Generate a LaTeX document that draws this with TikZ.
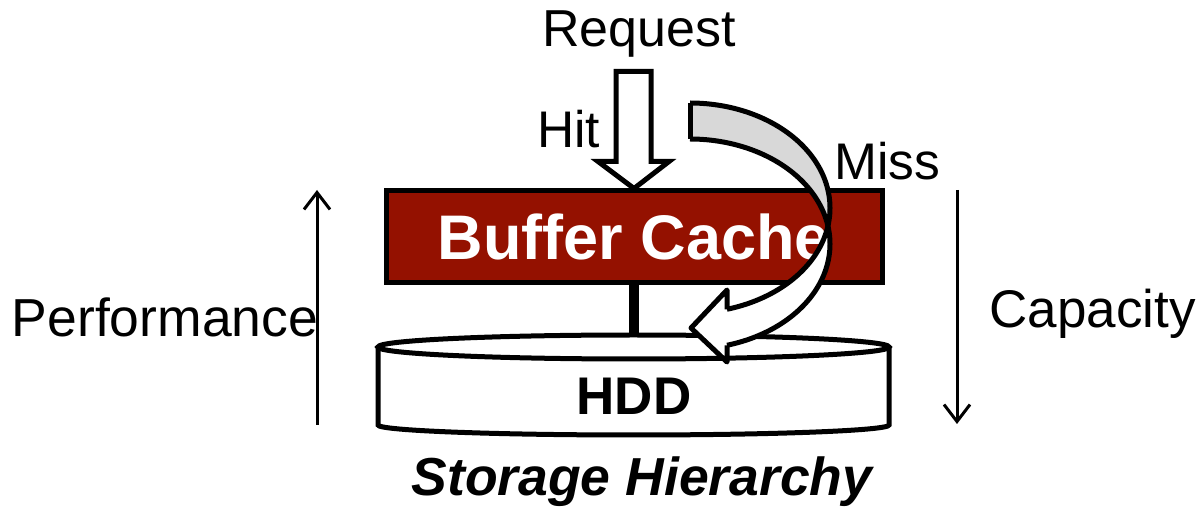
\documentclass[tikz,border=0pt]{standalone}
\usepackage{fontspec}
\setmainfont{Liberation Sans}
\usetikzlibrary{arrows.meta,calc}

\definecolor{cachered}{HTML}{941100}
\definecolor{backgray}{HTML}{D8D8D8}

\tikzset{
  plainlabel/.style={font=\fontsize{#1}{60}\selectfont, anchor=base, inner sep=0pt},
  axisarrow/.style={line width=3pt, -{Straight Barb[length=17pt,width=26pt,line width=3pt]}},
  cachebox/.style={draw=black, line width=5pt, fill=cachered, text=white,
    minimum width=496pt, minimum height=92pt, inner sep=0pt,
    font=\fontsize{63}{70}\selectfont\bfseries},
  blockarrow/.style={draw=black, line width=5pt, fill=white, line join=miter},
  ribbon/.style={draw=black, line width=5pt, line join=round},
  disk/.style={draw=black, line width=5pt, fill=white},
}

\begin{document}
\begin{tikzpicture}[x=1pt, y=-1pt]
  \useasboundingbox (0,0) rectangle (1200,510);

  % performance / capacity axes
  \coordinate (perfbot) at (317,425);
  \coordinate (perftop) at (317,190);
  \coordinate (captop)  at (957,190);
  \coordinate (capbot)  at (957,424);
  \draw[axisarrow] (perfbot) -- (perftop);
  \draw[axisarrow] (captop) -- (capbot);

  % buffer cache layer
  \node[cachebox] (cache) at (634,237) {Buffer Cache};

  % hit path: block arrow pointing into the cache
  \draw[blockarrow] (cache.north) -- ++(-36,-27) -- ++(18,0) -- ++(0,-90)
    -- ++(35,0) -- ++(0,90) -- ++(18,0) -- cycle;

  % link between cache and disk
  \coordinate (hddtop) at (634,340);
  \draw[line width=10pt] (cache.south) -- (hddtop);

  % disk cylinder
  \draw[disk] (378,347) -- (378,425) arc[start angle=180, end angle=0,
    x radius=255.5, y radius=10] -- (889,347);
  \draw[disk] (633.5,347) ellipse[x radius=255.5, y radius=12];
  \node[font=\fontsize{53}{60}\selectfont\bfseries, anchor=base, inner sep=0pt]
    (hdd) at (634,415) {HDD};

  % miss path: twisted curved arrow from the request down to the disk
  \def\crs{9.87}
  \def\fin{74.68}
  \fill[backgray]
    plot[domain=-90:\crs, samples=80] ({690+140*cos(\x)},{208+105*sin(\x)})
    -- plot[domain=-\crs:-90, samples=80] ({690+140*cos(\x)},{244+105*sin(\x)})
    -- cycle;
  \fill[white]
    plot[domain=\crs:\fin, samples=80] ({690+140*cos(\x)},{208+105*sin(\x)})
    -- (727,290) -- (691,328) -- (727,362)
    -- plot[domain=\fin:-\crs, samples=80] ({690+140*cos(\x)},{244+105*sin(\x)})
    -- cycle;
  \draw[ribbon] plot[domain=-90:\fin, samples=120] ({690+140*cos(\x)},{208+105*sin(\x)});
  \draw[ribbon] plot[domain=-90:\fin, samples=120] ({690+140*cos(\x)},{244+105*sin(\x)});
  \draw[ribbon] (690,103) -- (690,139);
  \draw[ribbon] (727,309.3) -- (727,290) -- (691,328) -- (727,362) -- (727,345.3);

  % labels
  \node[plainlabel=52] (request) at (639,47) {Request};
  \node[plainlabel=51.5] (hit) at (568.5,148) {Hit};
  \node[plainlabel=51.5] (miss) at (887.5,180) {Miss};
  \node[plainlabel=53.5] (perf) at (165,337) {Performance};
  \node[plainlabel=53] (cap) at (1092.5,328) {Capacity};
  \node[font=\fontsize{53.5}{60}\selectfont\bfseries\itshape, anchor=base, inner sep=0pt]
    (title) at (642,495) {Storage Hierarchy};
\end{tikzpicture}
\end{document}
